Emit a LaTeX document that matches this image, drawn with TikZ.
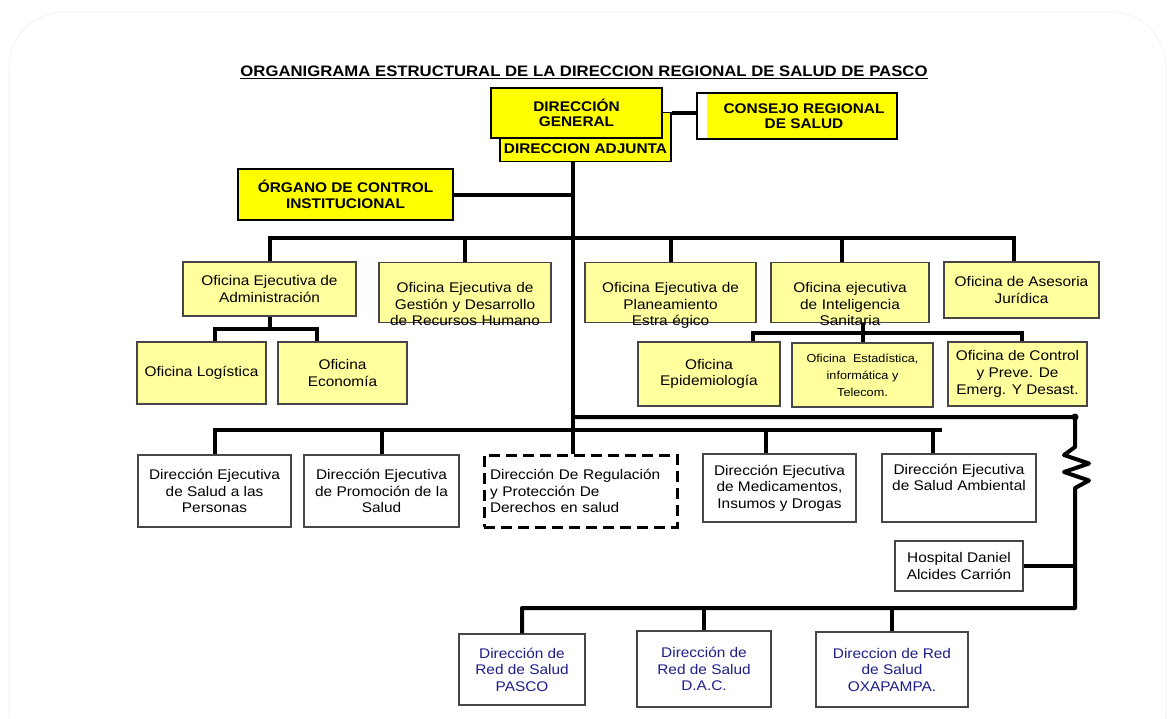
\documentclass[tikz,border=0pt]{standalone}
\usepackage{fontspec}
\setmainfont{Liberation Sans}[FakeStretch=1.1]
\definecolor{amarillo}{RGB}{255,255,0}
\definecolor{crema}{RGB}{255,255,158}
\definecolor{azulred}{RGB}{30,30,140}
\definecolor{borde}{RGB}{70,70,70}

\begin{document}
\begin{tikzpicture}[x=1pt,y=-1pt,
  topbox/.style={draw=black,line width=1.3pt,fill=amarillo,align=center,inner sep=0pt,font=\fontsize{14}{15.5}\selectfont\bfseries},
  ofibox/.style={draw=borde,line width=1.3pt,fill=crema,align=center,inner sep=0pt,font=\fontsize{14}{16.5}\selectfont},
  dirbox/.style={draw=borde,line width=1.3pt,fill=white,align=center,inner sep=0pt,font=\fontsize{14}{16.5}\selectfont},
  redbox/.style={dirbox,text=azulred},
  conn/.style={line width=4pt}]
\useasboundingbox (0,0) rectangle (1174,718);
\draw[black!4,line width=1.2pt,rounded corners=55pt] (9,12) rectangle (1166,770);

% titulo
\node[font=\fontsize{15.2}{17}\selectfont\bfseries] (titulo) at (584,72) {\underline{ORGANIGRAMA ESTRUCTURAL DE LA DIRECCION REGIONAL DE SALUD DE PASCO}};

% direccion general
\node[topbox,minimum width=171pt,text height=36pt,text depth=3pt,inner ysep=5pt,anchor=south] (adj) at (585.5,162) {DIRECCION ADJUNTA};
\node[topbox,minimum width=171pt,minimum height=50pt] (dg) at (576.5,113) {DIRECCIÓN\\GENERAL};
\node[topbox,fill=white,minimum width=200pt,minimum height=46pt,
  path picture={\fill[amarillo] ([xshift=10pt]path picture bounding box.north west) rectangle (path picture bounding box.south east);}]
  (cons) at (797,116) {\hspace*{14pt}CONSEJO REGIONAL\\\hspace*{14pt}DE SALUD};
\node[topbox,minimum width=215pt,minimum height=51pt] (org) at (345.5,194.5) {ÓRGANO DE CONTROL\\INSTITUCIONAL};

% oficinas
\node[ofibox,minimum width=173pt,minimum height=54pt] (adm) at (269.5,289) {Oficina Ejecutiva de\\Administración};
\node[ofibox,text width=172pt,text height=30pt,text depth=30pt,anchor=north] (ges) at (465,262) {Oficina Ejecutiva de\\Gestión y Desarrollo\\de Recursos Humano};
\node[ofibox,text width=171pt,text height=30pt,text depth=30pt,anchor=north] (pla) at (670.5,262) {Oficina Ejecutiva de\\Planeamiento\\Estra égico};
\node[ofibox,text width=158pt,text height=30pt,text depth=30pt,anchor=north] (intel) at (850,262) {Oficina ejecutiva\\de Inteligencia\\Sanitaria};
\node[ofibox,minimum width=155pt,minimum height=56pt] (ase) at (1021.5,290) {Oficina de Asesoria\\Jurídica};

\node[ofibox,minimum width=129pt,minimum height=62pt] (log) at (201.5,373) {Oficina Logística};
\node[ofibox,minimum width=129pt,minimum height=62pt] (eco) at (342.5,373) {Oficina\\Economía};
\node[ofibox,minimum width=142pt,minimum height=64pt] (epi) at (709,374) {Oficina\\Epidemiología};
\node[ofibox,minimum width=141pt,minimum height=64pt,font=\fontsize{11.5}{17}\selectfont] (est) at (862.5,375) {Oficina\ \ Estadística,\\informática y\\Telecom.};
\node[ofibox,minimum width=139pt,minimum height=64pt,font=\fontsize{14}{17}\selectfont] (ctl) at (1017.5,374) {Oficina de Control\\y Preve. De\\Emerg. Y Desast.};

% direcciones ejecutivas
\node[dirbox,minimum width=153pt,minimum height=72pt] (per) at (214.5,491) {Dirección Ejecutiva\\de Salud a las\\Personas};
\node[dirbox,minimum width=155pt,minimum height=72pt] (pro) at (381.5,491) {Dirección Ejecutiva\\de Promoción de la\\Salud};
\node[dirbox,draw=black,line width=3pt,dash pattern=on 11pt off 6pt,text width=181pt,align=left,inner xsep=6pt,minimum height=72pt] (reg) at (580.5,491) {Dirección De Regulación\\y Protección De\\Derechos en salud};
\node[dirbox,minimum width=153pt,minimum height=68pt] (med) at (779.5,488) {Dirección Ejecutiva\\de Medicamentos,\\Insumos y Drogas};
\node[dirbox,minimum width=154pt,minimum height=68pt] (amb) at (959,488) {Dirección Ejecutiva\\de Salud Ambiental\\\strut};
\node[dirbox,minimum width=128pt,minimum height=50pt] (hos) at (959,566) {Hospital Daniel\\Alcides Carrión};

% redes de salud
\node[redbox,minimum width=126pt,minimum height=71pt] (pas) at (522,669.5) {Dirección de\\Red de Salud\\PASCO};
\node[redbox,minimum width=134pt,minimum height=76pt] (dac) at (704,669) {Dirección de\\Red de Salud\\D.A.C.};
\node[redbox,minimum width=152pt,minimum height=75pt] (oxa) at (892,669.5) {Direccion de Red\\de Salud\\OXAPAMPA.};

% lineas
\coordinate (tronco) at (573,0);
\coordinate (b1) at (0,238);
\coordinate (alog) at (215,329);
\coordinate (aeco) at (317,329);
\coordinate (iepi) at (753,333);
\coordinate (ictl) at (1022,333);
\coordinate (r0) at (1075,417);
\coordinate (b2) at (0,430);
\coordinate (b2fin) at (942,430);
\coordinate (dmed) at (766,430);
\coordinate (damb) at (933,430);
\coordinate (b3) at (1075,608);

\draw[conn] (dg.east -| adj.east) -- (dg.east -| cons.west);
\draw[conn] (adj.south -| tronco) -- (reg.north -| tronco);
\draw[conn] (org.east) -- (org.east -| tronco);

\draw[conn] (adm.north) -- (adm.north |- b1) -- ([xshift=-8pt]ase.north |- b1) -- ([xshift=-8pt]ase.north);
\draw[conn] (ges.north) -- (ges.north |- b1);
\draw[conn] (pla.north) -- (pla.north |- b1);
\draw[conn] ([xshift=-8pt]intel.north) -- ([xshift=-8pt]intel.north |- b1);

\draw[conn] (adm.south) -- (adm.south |- alog);
\draw[conn] (log.north -| alog) -- (alog) -- (aeco) -- (eco.north -| aeco);
\draw[conn] (epi.north -| iepi) -- (iepi) -- (ictl) -- (ctl.north -| ictl);
\draw[conn] (intel.south -| est.north) -- (est.north);

\draw[conn] (per.north) -- (per.north |- b2) -- (b2fin);
\draw[conn] (pro.north) -- (pro.north |- b2);
\draw[conn] (dmed) -- (dmed |- med.north);
\draw[conn] (damb) -- (damb |- amb.north);

\draw[conn,line join=round] (r0 -| tronco) -- (r0) -- (1075,447) -- ++(-11,8) -- ++(25,8.5) -- ++(-25,8.5) -- ++(25,8.5) -- ++(-14,7.5) -- (b3) -- (b3 -| pas.north) -- (pas.north);
\fill (r0) circle (3.5pt);
\draw[conn] (hos.east) -- (hos.east -| b3);
\draw[conn] (dac.north |- b3) -- (dac.north);
\draw[conn] (oxa.north |- b3) -- (oxa.north);
\end{tikzpicture}
\end{document}
